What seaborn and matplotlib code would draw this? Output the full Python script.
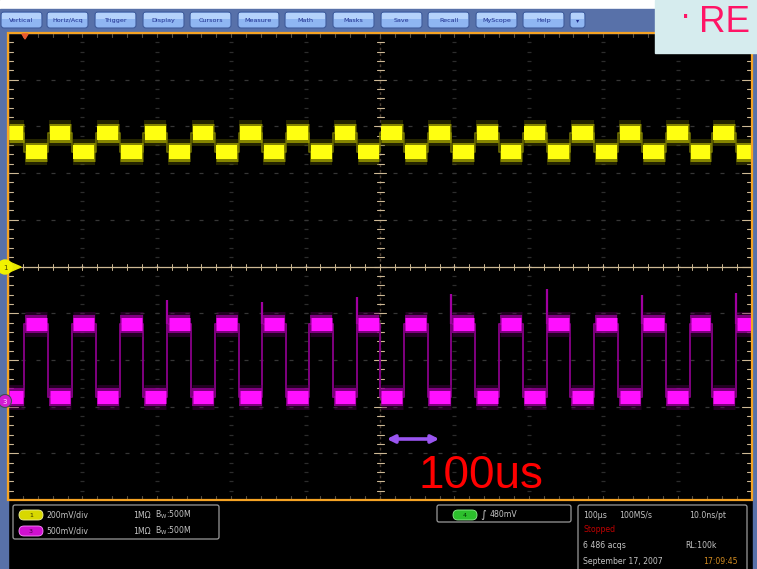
import numpy as np
import pandas as pd
import matplotlib
matplotlib.use("Agg")
import matplotlib.pyplot as plt
from matplotlib.patches import FancyBboxPatch, Rectangle, Circle, Polygon, FancyArrowPatch
import seaborn as sns

W, H = 757, 569

# ---- acquisition / channel settings ----
time_per_div_us = 100
ch1_volts_per_div = 0.2
ch3_volts_per_div = 0.5
ch1_ground_div = 0.0
ch3_ground_div = -2.86

# ---- captured traces ----
# logic edges (µs from trigger), shared by both channels
edge_times_us = [-478, -446, -414, -382, -350, -318, -286, -254, -222, -190,
                 -158, -127, -95, -63, -31, 0, 32, 64, 96, 128,
                 160, 192, 224, 256, 288, 320, 352, 384, 416, 446, 478]
ch1_high_v, ch1_low_v = 0.57, 0.49
ch1_starts_high = True
ch3_high_v, ch3_low_v = 0.81, 0.035
ch3_starts_high = False

# overshoot on CH3 rising edges
spike_times_us = [-286, -158, -31, 96, 224, 352, 478]
spike_peaks_v = [1.07, 1.05, 1.10, 1.14, 1.19, 1.12, 1.15]

# ---- screen texts ----
menu_labels = ["Vertical", "Horiz/Acq", "Trigger", "Display", "Cursors", "Measure",
               "Math", "Masks", "Save", "Recall", "MyScope", "Help", "\u25be"]
ch_scale_labels = ["200mV/div", "500mV/div"]
ch_coupling_labels = ["1M\u03a9", "1M\u03a9"]
ch_bw_labels = ["B$_\\mathregular{W}$:500M", "B$_\\mathregular{W}$:500M"]
trigger_level_label = "480mV"
horiz_labels = ["100\u00b5s", "100MS/s", "10.0ns/pt"]
acq_state = "Stopped"
acq_count = "6 486 acqs"
record_length = "RL:100k"
date_label = "September 17, 2007"
time_label = "17:09:45"
scale_note = "100us"
corner_note = "RE"

sns.set_style("dark")
plt.rcParams["font.family"] = ["DejaVu Sans"]

fig = plt.figure(figsize=(W / 100, H / 100), dpi=100, facecolor="black")
ax = fig.add_axes([8 / W, 1 - 500 / H, 744 / W, 467 / H])
ax.set_facecolor("black")

PX_T = 744 / 1000.0     # px per µs
PX_D = 467 / 10.0       # px per division
def pt(px):
    return px * 0.72


def trace_frame(starts_high, high_v, low_v, vpd, ground):
    bounds = [-500] + edge_times_us + [500]
    rows = []
    hi = starts_high
    for t0, t1 in zip(bounds[:-1], bounds[1:]):
        v = high_v if hi else low_v
        rows.append({"t0": t0, "t1": t1, "div": v / vpd + ground})
        hi = not hi
    seg = pd.DataFrame(rows)
    steps = pd.DataFrame({"t": list(seg["t0"]) + [500],
                          "div": list(seg["div"]) + [seg["div"].iloc[-1]]})
    return seg, steps


# ---- graticule ----
grid_c = "#2c2c2c"
for xd in range(-400, 401, 100):
    if xd == 0:
        continue
    ys = np.arange(-4.8, 4.81, 0.2)
    ax.plot(np.full_like(ys, xd), ys, ls="none", marker="_", ms=2.5, mew=0.9, color=grid_c, zorder=1)
for yd in range(-4, 5):
    if yd == 0:
        continue
    xs = np.arange(-480, 481, 20)
    ax.plot(xs, np.full_like(xs, yd, dtype=float), ls="none", marker="_", ms=2.5, mew=0.9,
            color="#363636", zorder=1)

tan = "#cdb894"
ax.axvline(0, color="#4d4034", lw=1, ls=(0, (2, 2)), zorder=1)
ax.axhline(0, color=tan, lw=0.9, zorder=1)
for yd in np.round(np.arange(-4.8, 4.81, 0.2), 3):
    major = abs(yd - round(yd)) < 1e-6
    half = 6 if major else 3.5
    ax.plot([-half / PX_T, half / PX_T], [yd, yd], color=tan, lw=0.8, zorder=2)
    # border ticks left / right
    ln = 10 if major else 5
    ax.plot([-500, -500 + ln / PX_T], [yd, yd], color=tan, lw=0.8, zorder=2)
    ax.plot([500 - ln / PX_T, 500], [yd, yd], color=tan, lw=0.8, zorder=2)
for xd in np.arange(-480, 481, 20):
    ax.plot([xd, xd], [-3 / PX_D, 3 / PX_D], color=tan, lw=0.7, zorder=2)
    ax.plot([xd, xd], [5 - 4 / PX_D, 5], color="#5a5040", lw=0.8, zorder=2)
    ax.plot([xd, xd], [-5, -5 + 4 / PX_D], color="#5a5040", lw=0.8, zorder=2)

# ---- traces ----
seg1, steps1 = trace_frame(ch1_starts_high, ch1_high_v, ch1_low_v, ch1_volts_per_div, ch1_ground_div)
seg3, steps3 = trace_frame(ch3_starts_high, ch3_high_v, ch3_low_v, ch3_volts_per_div, ch3_ground_div)

sns.lineplot(data=steps1, x="t", y="div", drawstyle="steps-post", estimator=None, sort=False,
             color="#6e6e00", lw=1.2, ax=ax, legend=False, zorder=3)
sns.lineplot(data=steps3, x="t", y="div", drawstyle="steps-post", estimator=None, sort=False,
             color="#800080", lw=1.4, ax=ax, legend=False, zorder=3)

for seg, dim, mid, core, hpx in [(seg1, "#5e5e00", "#a8a800", "#ffff10", 14),
                                 (seg3, "#5a005a", "#a000a0", "#ff10ff", 13)]:
    ax.hlines(seg["div"], seg["t0"] + 1, seg["t1"] - 1, color=dim, lw=pt(hpx + 12), alpha=0.4, zorder=4)
    ax.hlines(seg["div"], seg["t0"] + 1, seg["t1"] - 1, color=mid, lw=pt(hpx + 5), alpha=0.75, zorder=5)
    ax.hlines(seg["div"], seg["t0"] + 2, seg["t1"] - 2, color=core, lw=pt(hpx), zorder=6)

spike_div = [v / ch3_volts_per_div + ch3_ground_div for v in spike_peaks_v]
ax.vlines(spike_times_us, ch3_high_v / ch3_volts_per_div + ch3_ground_div, spike_div,
          color="#a000a0", lw=1.6, zorder=3)

ax.set_xlim(-500, 500)
ax.set_ylim(-5, 5)
ax.axis("off")

# ---- instrument chrome (pixel coordinates) ----
ov = fig.add_axes([0, 0, 1, 1])
ov.set_xlim(0, W)
ov.set_ylim(H, 0)
ov.axis("off")
ov.patch.set_alpha(0)

bar_c = "#5871a9"
ov.add_patch(Rectangle((0, 0), 655, 9, color="white", zorder=1))
ov.add_patch(Rectangle((0, 9), 655, 24, color=bar_c, zorder=1))
ov.add_patch(Rectangle((0, 33), 7.5, H - 33, color=bar_c, zorder=1))
ov.add_patch(Rectangle((753, 33), 4, H - 33, color=bar_c, zorder=1))

button_x = [0, 46, 94, 142, 189, 237, 284, 332, 380, 427, 475, 522, 569]
for i, lab in enumerate(menu_labels):
    w = 43 if i < len(menu_labels) - 1 else 17
    bx = button_x[i]
    ov.add_patch(FancyBboxPatch((bx + 1, 12), w - 2, 16,
                                boxstyle="round,pad=0,rounding_size=3",
                                fc="#8fb6f2", ec="#3f5c9c", lw=0.8, zorder=2))
    ov.add_patch(Rectangle((bx + 2, 13), w - 4, 6, color="#b4d2fb", zorder=2, lw=0))
    ov.text(bx + w / 2, 20.5, lab, fontsize=4.6, color="#1f2f8f", ha="center", va="center", zorder=3)

# plot frame
ov.add_patch(Rectangle((8, 33), 744, 467, fill=False, ec="#f5a324", lw=1.6, zorder=3))
ov.add_patch(Polygon([(22, 34), (28, 34), (25, 39)], color="#e85a30", zorder=4))

# corner note box
ov.add_patch(Rectangle((655, 0), 102, 53, color="#d6ecee", zorder=5))
ov.text(680, 16, "\u00b7", fontsize=24, color="#ff1566", family="Liberation Sans",
        va="center", zorder=6)
ov.text(699, 32, corner_note, fontsize=26.5, color="#ff1566", family="Liberation Sans",
        va="baseline", zorder=6)

# channel ground markers
ov.add_patch(Polygon([(7, 261), (7, 273), (21, 267)], color="#e8e800", zorder=6))
ov.add_patch(Circle((5, 267), 7, color="#f2f200", zorder=6))
ov.text(5, 267.5, "1", fontsize=5, color="#404000", ha="center", va="center", zorder=7)
ov.add_patch(Circle((5, 401), 6.5, fc="#d21cd2", ec="#405050", lw=0.8, zorder=6))
ov.text(5, 401.5, "3", fontsize=5, color="#ffe0ff", ha="center", va="center", zorder=7)

# time scale annotation
ov.add_patch(FancyArrowPatch((384, 439), (442, 439), arrowstyle="<|-|>", mutation_scale=11,
                             color="#9a55f0", lw=2.6, zorder=6))
ov.text(419, 488, scale_note, fontsize=33, color="#ff0000", family="Liberation Sans",
        va="baseline", zorder=6)

# ---- readout panel ----
txt = "#c4c4c4"
fs = 5.6
ov.add_patch(FancyBboxPatch((13, 505), 206, 34, boxstyle="round,pad=0,rounding_size=2",
                            fc="black", ec="#9a9a9a", lw=0.9, zorder=3))
for j, (col, num) in enumerate([("#d8d800", "1"), ("#d010d0", "3")]):
    yc = 515 + j * 16
    ov.add_patch(FancyBboxPatch((19, yc - 5), 24, 10, boxstyle="round,pad=0,rounding_size=5",
                                fc=col, ec="#f0f0a0" if j == 0 else "#ff90ff", lw=0.6, zorder=4))
    ov.text(31, yc + 0.5, num, fontsize=4.5, color="#303000" if j == 0 else "#400040",
            ha="center", va="center", zorder=5)
    ov.text(46, yc, ch_scale_labels[j], fontsize=fs, color=txt, va="center", zorder=5)
    ov.text(133, yc, ch_coupling_labels[j], fontsize=fs, color=txt, va="center", zorder=5)
    ov.text(155, yc, ch_bw_labels[j], fontsize=fs, color=txt, va="center", zorder=5)

ov.add_patch(FancyBboxPatch((437, 505), 134, 17, boxstyle="round,pad=0,rounding_size=2",
                            fc="black", ec="#9a9a9a", lw=0.9, zorder=3))
ov.add_patch(FancyBboxPatch((453, 510), 24, 10, boxstyle="round,pad=0,rounding_size=5",
                            fc="#2cc02c", ec="#90f090", lw=0.6, zorder=4))
ov.text(465, 515.5, "4", fontsize=4.5, color="#003000", ha="center", va="center", zorder=5)
ov.text(480, 514.5, "\u222b", fontsize=8, color=txt, va="center", zorder=5)
ov.text(490, 514.5, trigger_level_label, fontsize=fs, color=txt, va="center", zorder=5)

ov.add_patch(FancyBboxPatch((578, 505), 169, 70, boxstyle="round,pad=0,rounding_size=2",
                            fc="black", ec="#9a9a9a", lw=0.9, zorder=3))
ov.text(583, 515, horiz_labels[0], fontsize=fs, color=txt, va="center", zorder=5)
ov.text(619, 515, horiz_labels[1], fontsize=fs, color=txt, va="center", zorder=5)
ov.text(689, 515, horiz_labels[2], fontsize=fs, color=txt, va="center", zorder=5)
ov.text(583, 530, acq_state, fontsize=fs, color="#c00000", va="center", zorder=5)
ov.text(583, 546, acq_count, fontsize=fs, color=txt, va="center", zorder=5)
ov.text(685, 546, record_length, fontsize=fs, color=txt, va="center", zorder=5)
ov.text(583, 562, date_label, fontsize=fs, color=txt, va="center", zorder=5)
ov.text(703, 562, time_label, fontsize=fs, color="#d08a20", va="center", zorder=5)

fig.savefig("out.png", dpi=100, facecolor="black")
